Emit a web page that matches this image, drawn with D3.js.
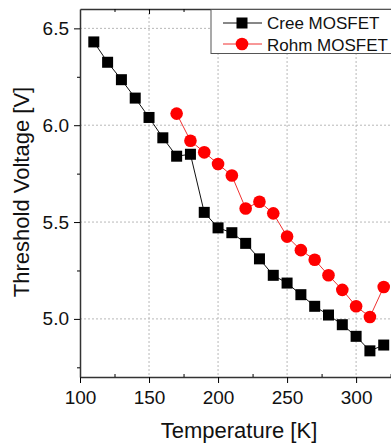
<!DOCTYPE html>
<html>
<head>
<meta charset="utf-8">
<script src="https://cdn.jsdelivr.net/npm/d3@7"></script>
<style>
  body { margin: 0; background: #fff; }
  text { font-family: "Liberation Sans", Arial, sans-serif; fill: #111; }
</style>
</head>
<body>
<div id="chart"></div>
<script>
// temperatures [K]
const creeTemps = [110, 120, 130, 140, 150, 160, 170, 180, 190, 200, 210, 220, 230, 240, 250, 260, 270, 280, 290, 300, 310, 320];
const creeVth = [6.43, 6.325, 6.235, 6.14, 6.04, 5.935, 5.84, 5.85, 5.55, 5.47, 5.445, 5.39, 5.31, 5.225, 5.185, 5.125, 5.065, 5.02, 4.97, 4.91, 4.835, 4.865];
const rohmTemps = [170, 180, 190, 200, 210, 220, 230, 240, 250, 260, 270, 280, 290, 300, 310, 320];
const rohmVth = [6.06, 5.92, 5.86, 5.80, 5.74, 5.57, 5.605, 5.545, 5.425, 5.355, 5.305, 5.225, 5.15, 5.065, 5.01, 5.165];
const xTicks = [100, 150, 200, 250, 300];
const xMinor = [125, 175, 225, 275, 325];
const yTicks = [5.0, 5.5, 6.0, 6.5];
const yMinor = [4.75, 5.25, 5.75, 6.25];
const seriesNames = ["Cree MOSFET", "Rohm MOSFET"];

(() => {
  const W = 391, H = 446;
  // plot frame edges (right edge is cut off by the picture)
  const frame = {left: 80, top: 9, bottom: 377, right: 392};

  const svg = d3.select("#chart").append("svg")
    .attr("width", W).attr("height", H);

  let x = d3.scaleLinear().domain([100, 326]).range([frame.left, frame.right]);
  let y = d3.scaleLinear().domain([4.7, 6.6]).range([frame.bottom, frame.top]);

  // dotted grid
  let grid = svg.append("g").attr("stroke", "#b8b8b8").attr("stroke-width", 1).attr("stroke-dasharray", "2,2");
  grid.selectAll("line.v").data(xTicks.slice(1)).enter().append("line")
    .attr("x1", d => x(d)).attr("x2", d => x(d)).attr("y1", frame.top).attr("y2", frame.bottom);
  grid.selectAll("line.h").data(yTicks).enter().append("line")
    .attr("x1", frame.left).attr("x2", W).attr("y1", d => y(d)).attr("y2", d => y(d));

  //bottom axis, major ticks out and minor ticks in
  let xAxis = d3.axisBottom(x).tickValues(xTicks).tickSize(6).tickSizeOuter(0).tickPadding(8);
  let gx = svg.append("g").attr("transform", "translate(0," + frame.bottom + ")").call(xAxis);
  gx.selectAll("text").style("font-size", "19px").attr("fill", "#111");
  gx.select(".domain").attr("stroke", "#333").attr("stroke-width", 1.5);
  svg.append("g").attr("transform", "translate(0," + frame.bottom + ")")
    .call(d3.axisTop(x).tickValues(xMinor).tickSize(3).tickFormat(""))
    .select(".domain").remove();

  // top frame with inward ticks
  let gt = svg.append("g").attr("transform", "translate(0," + frame.top + ")")
    .call(d3.axisBottom(x).tickValues(xTicks.slice(1)).tickSize(5).tickSizeOuter(0).tickFormat(""));
  gt.select(".domain").attr("stroke", "#333").attr("stroke-width", 1.5);
  svg.append("g").attr("transform", "translate(0," + frame.top + ")")
    .call(d3.axisBottom(x).tickValues(xMinor.slice(0, 4)).tickSize(3).tickFormat(""))
    .select(".domain").remove();

  // left axis
  let yAxis = d3.axisLeft(y).tickValues(yTicks).tickSize(6).tickSizeOuter(0).tickPadding(5).tickFormat(d3.format(".1f"));
  let gy = svg.append("g").attr("transform", "translate(" + frame.left + ",0)").call(yAxis);
  gy.selectAll("text").style("font-size", "19px").attr("fill", "#111");
  gy.select(".domain").attr("stroke", "#333").attr("stroke-width", 1.5);
  svg.append("g").attr("transform", "translate(" + frame.left + ",0)")
    .call(d3.axisLeft(y).tickValues(yMinor).tickSize(3).tickFormat(""))
    .select(".domain").remove();

  // axis titles
  svg.append("text").attr("x", 239).attr("y", 438).attr("text-anchor", "middle")
    .style("font-size", "22px").text("Temperature [K]");
  svg.append("text").attr("transform", "translate(29,192) rotate(-90)").attr("text-anchor", "middle")
    .style("font-size", "22px").text("Threshold Voltage [V]");

  // series
  let cree = creeTemps.map((t, i) => ({t: t, v: creeVth[i]}));
  let rohm = rohmTemps.map((t, i) => ({t: t, v: rohmVth[i]}));
  let line = d3.line().x(d => x(d.t)).y(d => y(d.v));

  svg.append("path").datum(rohm).attr("d", line).attr("fill", "none").attr("stroke", "#f03030").attr("stroke-width", 1);
  svg.append("path").datum(cree).attr("d", line).attr("fill", "none").attr("stroke", "#111").attr("stroke-width", 1);

  svg.append("g").selectAll("circle").data(rohm).enter().append("circle")
    .attr("cx", d => x(d.t)).attr("cy", d => y(d.v)).attr("r", 6.3).attr("fill", "#ff0000");
  svg.append("g").selectAll("rect").data(cree).enter().append("rect")
    .attr("x", d => x(d.t) - 5.5).attr("y", d => y(d.v) - 5.5)
    .attr("width", 11).attr("height", 11).attr("fill", "#000");

  // legend
  let lg = svg.append("g");
  lg.append("rect").attr("x", 211).attr("y", 9.5).attr("width", 200).attr("height", 44)
    .attr("fill", "#fff").attr("stroke", "#555").attr("stroke-width", 1);
  lg.append("line").attr("x1", 223).attr("x2", 262).attr("y1", 23).attr("y2", 23).attr("stroke", "#111");
  lg.append("rect").attr("x", 236.5).attr("y", 17.5).attr("width", 11).attr("height", 11).attr("fill", "#000");
  lg.append("line").attr("x1", 223).attr("x2", 262).attr("y1", 44).attr("y2", 44).attr("stroke", "#f03030");
  lg.append("circle").attr("cx", 242).attr("cy", 44).attr("r", 6.3).attr("fill", "#ff0000");
  lg.selectAll("text.leg").data(seriesNames).enter().append("text")
    .attr("x", 267).attr("y", (d, i) => 29 + i * 21.5)
    .style("font-size", "17px").text(d => d);
})();
</script>
</body>
</html>
